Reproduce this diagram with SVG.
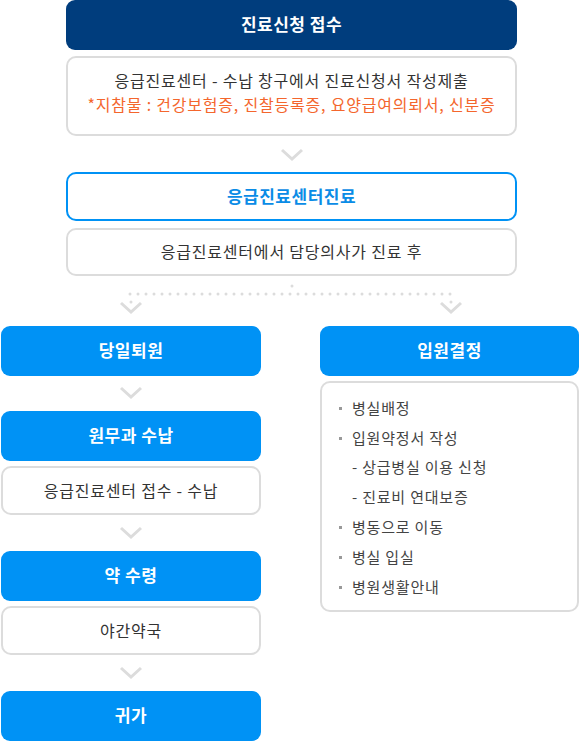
<svg xmlns="http://www.w3.org/2000/svg" width="579" height="741" viewBox="0 0 579 741">
<style>
.navy{fill:#003d7d}
.blue{fill:#0092f5}
.wbox{fill:#fff;stroke:#dcdcdc;stroke-width:2}
.bbox{fill:#fff;stroke:#0092f5;stroke-width:2}
.t{font-family:"Noto Sans CJK KR","Noto Sans",sans-serif;text-anchor:middle}
.h{font-size:17px;font-weight:bold;fill:#fff;letter-spacing:0.5px}
.hb{font-size:17px;font-weight:bold;fill:#0a8ce6;letter-spacing:0.5px}
.b{font-size:16px;fill:#333;letter-spacing:0.8px}
.o{fill:#f4662d}
.l{font-family:"Noto Sans CJK KR","Noto Sans",sans-serif;font-size:15px;fill:#444;letter-spacing:0.8px}
.chev{fill:none;stroke:#dcdcdc;stroke-width:3}
.dots{fill:none;stroke:#dcdcdc;stroke-width:3;stroke-linecap:round;stroke-dasharray:0 8}
.sq{fill:#999}
</style>
<g id="connectors">
<polyline class="chev" points="282,150 292,159 302,150"/>
<line class="dots" x1="292" y1="286" x2="292" y2="286.1"/>
<line class="dots" x1="130" y1="294" x2="452" y2="294"/>
<line class="dots" x1="131" y1="302" x2="131" y2="302.1"/>
<line class="dots" x1="451" y1="302" x2="451" y2="302.1"/>
<polyline class="chev" points="121,303 131,312 141,303"/>
<polyline class="chev" points="441,303 451,312 461,303"/>
<polyline class="chev" points="121,388 131,397 141,388"/>
<polyline class="chev" points="121,528 131,537 141,528"/>
<polyline class="chev" points="121,668 131,677 141,668"/>
</g>
<g id="n1">
<rect class="navy" x="66" y="0" width="451" height="50" rx="9"/>
<text class="t h" x="291.5" y="31">진료신청 접수</text>
</g>
<g id="n2">
<rect class="wbox" x="67" y="57" width="449" height="78" rx="9"/>
<text class="t b" x="291.5" y="87">응급진료센터 - 수납 창구에서 진료신청서 작성제출</text>
<text class="t b o" x="291.5" y="111">*지참물 : 건강보험증, 진찰등록증, 요양급여의뢰서, 신분증</text>
</g>
<g id="n3">
<rect class="bbox" x="67" y="173" width="449" height="47" rx="9"/>
<text class="t hb" x="291.5" y="203">응급진료센터진료</text>
</g>
<g id="n4">
<rect class="wbox" x="67" y="229" width="449" height="46" rx="9"/>
<text class="t b" x="291.5" y="258">응급진료센터에서 담당의사가 진료 후</text>
</g>
<g id="n5">
<rect class="blue" x="1" y="326" width="260" height="50" rx="9"/>
<text class="t h" x="131" y="357">당일퇴원</text>
</g>
<g id="n6">
<rect class="blue" x="1" y="411" width="260" height="50" rx="9"/>
<text class="t h" x="131" y="442">원무과 수납</text>
</g>
<g id="n7">
<rect class="wbox" x="2" y="467" width="258" height="47" rx="9"/>
<text class="t b" x="131" y="497">응급진료센터 접수 - 수납</text>
</g>
<g id="n8">
<rect class="blue" x="1" y="551" width="260" height="50" rx="9"/>
<text class="t h" x="131" y="582">약 수령</text>
</g>
<g id="n9">
<rect class="wbox" x="2" y="607" width="258" height="47" rx="9"/>
<text class="t b" x="131" y="637">야간약국</text>
</g>
<g id="n10">
<rect class="blue" x="1" y="691" width="260" height="50" rx="9"/>
<text class="t h" x="131" y="722">귀가</text>
</g>
<g id="n11">
<rect class="blue" x="320" y="326" width="259" height="50" rx="9"/>
<text class="t h" x="449.5" y="357">입원결정</text>
</g>
<g id="n12">
<rect class="wbox" x="321" y="382" width="257" height="229" rx="9"/>
<rect class="sq" x="339" y="407" width="3" height="3"/>
<text class="l" x="352" y="414">병실배정</text>
<rect class="sq" x="339" y="437" width="3" height="3"/>
<text class="l" x="352" y="444">입원약정서 작성</text>
<text class="l" x="352" y="473">- 상급병실 이용 신청</text>
<text class="l" x="352" y="503">- 진료비 연대보증</text>
<rect class="sq" x="339" y="526" width="3" height="3"/>
<text class="l" x="352" y="533">병동으로 이동</text>
<rect class="sq" x="339" y="556" width="3" height="3"/>
<text class="l" x="352" y="563">병실 입실</text>
<rect class="sq" x="339" y="586" width="3" height="3"/>
<text class="l" x="352" y="593">병원생활안내</text>
</g>
</svg>
